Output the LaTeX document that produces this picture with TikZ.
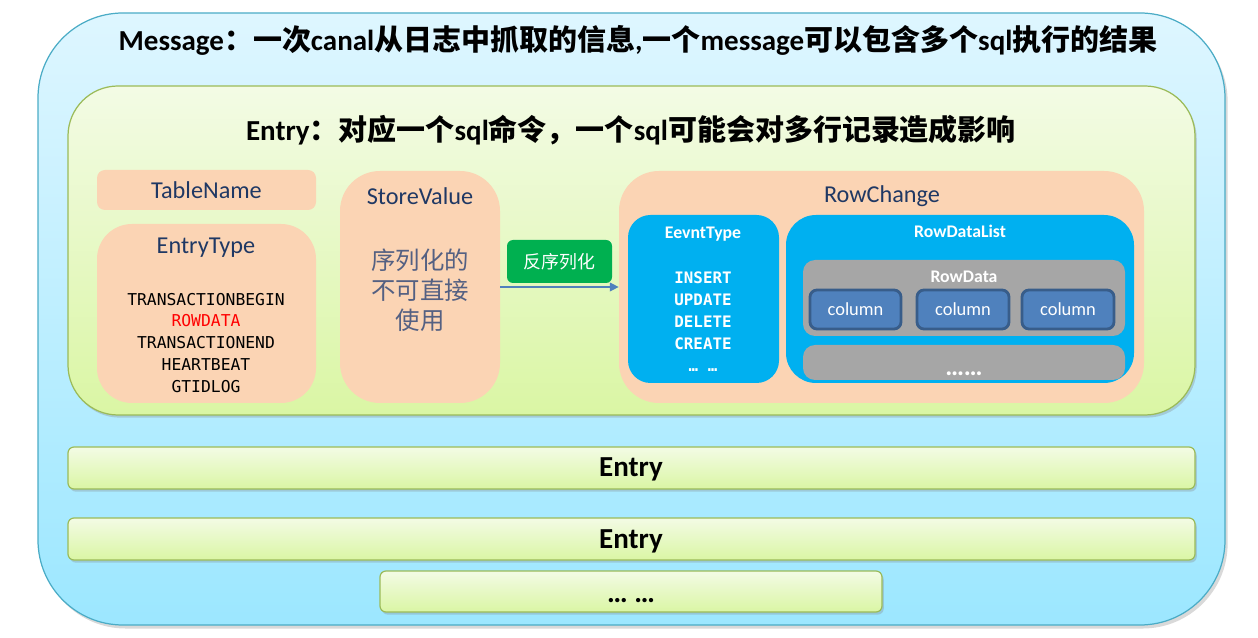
\documentclass[tikz,border=0pt]{standalone}
\usepackage{fontspec}
\setmainfont{Carlito}
\setmonofont{DejaVu Sans Mono}
\newfontfamily\cjk{Noto Sans CJK SC}
\newcommand\zh[1]{{\cjk #1}}
\usepackage{xcolor}
\usetikzlibrary{positioning,fit,shadows,arrows.meta}

\definecolor{msgtop}{RGB}{222,246,255}
\definecolor{msgbot}{RGB}{156,231,255}
\definecolor{msgline}{RGB}{75,172,198}
\definecolor{entrytop}{RGB}{243,251,229}
\definecolor{entrybot}{RGB}{218,246,164}
\definecolor{entryline}{RGB}{155,187,89}
\definecolor{peach}{RGB}{251,212,180}
\definecolor{navytext}{RGB}{31,56,100}
\definecolor{svtext}{RGB}{84,96,130}
\definecolor{cyanbox}{RGB}{0,176,240}
\definecolor{greybox}{RGB}{166,166,166}
\definecolor{colfill}{RGB}{79,129,189}
\definecolor{colline}{RGB}{56,93,138}
\definecolor{greenbox}{RGB}{0,176,80}

\tikzset{
  frame/.style={fit={#1}, inner sep=0pt},
  msgbox/.style={draw=msgline, line width=0.7pt, top color=msgtop, bottom color=msgbot,
    rounded corners=1.7cm, drop shadow={shadow xshift=1.5pt, shadow yshift=-2pt, opacity=0.3}},
  entrybox/.style={draw=entryline, line width=0.7pt, top color=entrytop, bottom color=entrybot,
    rounded corners=#1, drop shadow={shadow xshift=1pt, shadow yshift=-1.5pt, opacity=0.3}},
  peachbox/.style={fill=peach, rounded corners=#1},
  bluebox/.style={fill=cyanbox, rounded corners=#1},
  greybar/.style={fill=greybox, rounded corners=0.24cm},
  colbox/.style={draw=colline, line width=1.6pt, fill=colfill, rounded corners=0.14cm},
  head/.style={font=\bfseries\fontsize{16.5}{19}\selectfont},
  field/.style={text=navytext, font=\fontsize{13.8}{16}\selectfont},
  whitehead/.style={text=white, font=\bfseries\fontsize{10.1}{12}\selectfont},
  flow/.style={draw=colfill, line width=0.7pt, -{Triangle[length=5pt,width=5pt]}}
}

\begin{document}
\begin{tikzpicture}[x=0.02cm, y=-0.02cm, every node/.style={inner sep=0pt}]
  \useasboundingbox (0,0) rectangle (1258,638);

  % message
  \node[msgbox, frame={(38,13) (1225,625)}] (message) {};
  \node[head] (msgtitle) at (638,40)
    {Message\zh{：一次}canal\zh{从日志中抓取的信息},\zh{一个}message\zh{可以包含多个}sql\zh{执行的结果}};

  % first entry, opened up
  \node[entrybox=1cm, frame={(68,86) (1195,415)}] (entry) {};
  \node[head] (entrytitle) at (631,130)
    {Entry\zh{：对应一个}sql\zh{命令，一个}sql\zh{可能会对多行记录造成影响}};

  \node[peachbox=0.16cm, frame={(97,170) (316,210)}] (tablename) {};
  \node[field] at (tablename.center) {TableName};

  \node[peachbox=0.7cm, frame={(97,224) (316,403)}] (entrytype) {};
  \node[field] (entrytypelabel) at (206,248) {EntryType};
  \node[align=center, font=\ttfamily\fontsize{9.3}{12.5}\selectfont] (entrytypelist) at (206,343)
    {TRANSACTIONBEGIN\\ \textcolor{red}{ROWDATA}\\ TRANSACTIONEND\\ HEARTBEAT\\ GTIDLOG};

  \node[peachbox=0.8cm, frame={(340,171) (500,403)}] (storevalue) {};
  \node[field] (storevaluelabel) at (420,196) {StoreValue};
  \node[align=center, text=svtext, font=\cjk\fontsize{13.9}{17}\selectfont] (storevaluetext) at (420,290)
    {序列化的\\不可直接\\使用};

  \node[peachbox=0.8cm, frame={(619,171) (1144,403)}] (rowchange) {};
  \node[field] (rowchangelabel) at (882,196) {RowChange};

  \node[fill=greenbox, rounded corners=0.12cm, frame={(507,240) (612,283)}] (deserial) {};
  \node[text=white, font=\cjk\fontsize{10.2}{12}\selectfont] at (deserial.center) {反序列化};
  \draw[flow] (storevalue) -- (rowchange);

  \node[bluebox=0.45cm, frame={(628,215) (779,383)}] (eventtype) {};
  \node[whitehead] (eventtypelabel) at (703,234) {EevntType};
  \node[align=center, text=white, font=\ttfamily\bfseries\fontsize{9}{12.5}\selectfont] (eventtypelist) at (703,322)
    {INSERT\\ UPDATE\\ DELETE\\ CREATE\\ … …};

  \node[bluebox=0.6cm, frame={(786,215) (1134,383)}] (rowdatalist) {};
  \node[whitehead] (rowdatalistlabel) at (960,231) {RowDataList};

  \node[greybar, frame={(803,260) (1125,336)}] (rowdata) {};
  \node[whitehead] (rowdatalabel) at (964,277) {RowData};
  \node[colbox, frame={(810,290) (901,329)}] (colone) {};
  \node[text=white, font=\fontsize{10.5}{12}\selectfont] at (colone.center) {column};
  \node[colbox, frame={(917,290) (1009,329)}] (coltwo) {};
  \node[text=white, font=\fontsize{10.5}{12}\selectfont] at (coltwo.center) {column};
  \node[colbox, frame={(1022,290) (1114,329)}] (colthree) {};
  \node[text=white, font=\fontsize{10.5}{12}\selectfont] at (colthree.center) {column};

  \node[greybar, frame={(803,345) (1125,380)}] (morerows) {};
  \node[text=white, font=\bfseries\fontsize{15}{16}\selectfont, anchor=base] at (964,376) {……};

  % further entries
  \node[entrybox=0.12cm, frame={(68,447) (1195,489)}] (entrytwo) {};
  \node[head, anchor=base] at (631,477) {Entry};
  \node[entrybox=0.12cm, frame={(68,518) (1195,560)}] (entrythree) {};
  \node[head, anchor=base] at (631,548) {Entry};
  \node[entrybox=0.12cm, frame={(380,571) (882,612)}] (moreentries) {};
  \node[head, anchor=base] at (631,602) {… …};
\end{tikzpicture}
\end{document}
